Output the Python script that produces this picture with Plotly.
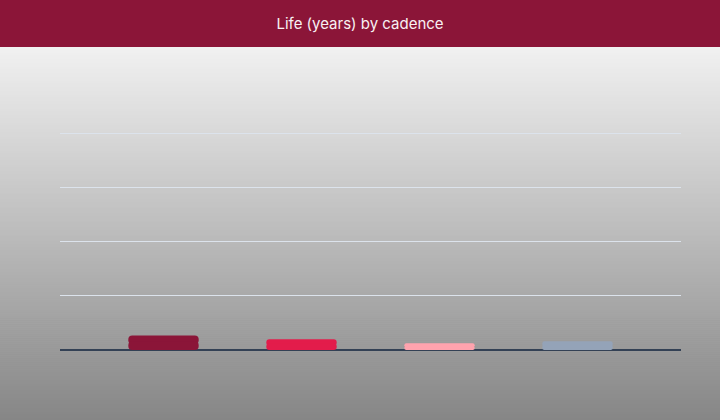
import plotly.graph_objects as go

# data
cadences = ['Daily', 'Weekly', 'Monthly', 'Quarterly']
life_years = [2.7, 2.0, 1.25, 1.6]
bar_colors = ['#8B1538', '#E31C4B', '#FFA3AE', '#94A3B8']

W, H = 720, 420
L, R, T, B = 60, 39, 90, 70
plot_h = H - T - B
y_max = 48.1
px_per_unit = plot_h / y_max


def py(px):
    # pixel row from top of figure -> paper y of the plot area
    return (H - B - px) / plot_h


fig = go.Figure()

# each bar is drawn as two overlapping halves, so both ends get rounded (pill look)
for cat, val, col in zip(cadences, life_years, bar_colors):
    r = val / 2 * px_per_unit
    # upper part: from 40% up to the value, rounded top
    fig.add_trace(go.Bar(
        x=[cat], y=[val * 0.6], base=[val * 0.4],
        width=0.51, opacity=1,
        marker=dict(color=col, opacity=1, cornerradius=r, line=dict(width=0)),
        showlegend=False,
        hovertemplate=f'{cat}: {val}<extra></extra>',
    ))
    # lower part: from 60% down to zero, rounded bottom
    fig.add_trace(go.Bar(
        x=[cat], y=[-val * 0.6], base=[val * 0.6],
        width=0.51, opacity=1,
        marker=dict(color=col, opacity=1, cornerradius=r, line=dict(width=0)),
        showlegend=False,
        hoverinfo='skip',
    ))

# grey gradient background, drawn as thin strips
band = 47
n_strips = 187
c_top, c_bot = 241, 134
step = (H - band) / n_strips
for i in range(n_strips):
    top_px = band + i * step
    c = round(c_top + (c_bot - c_top) * (i + 0.5) / n_strips)
    fig.add_shape(type='rect', xref='paper', yref='paper',
                  x0=-0.2, x1=1.2, y0=py(top_px + step + 0.6), y1=py(top_px),
                  fillcolor=f'rgb({c},{c},{c})', line_width=0, layer='below')

# title band
fig.add_shape(type='rect', xref='paper', yref='paper',
              x0=-0.2, x1=1.2, y0=py(band), y1=py(-5),
              fillcolor='#8B1538', line_width=0, layer='below')

fig.update_layout(
    width=W, height=H,
    margin=dict(l=L, r=R, t=T, b=B),
    paper_bgcolor='#8a8a8a',
    plot_bgcolor='rgba(0,0,0,0)',
    barmode='overlay',
    title=dict(text='Life (years) by cadence', x=0.5, xanchor='center',
               y=1 - 24 / H, yanchor='middle',
               font=dict(family='Inter', size=15, color='#F8F0F2')),
)

fig.update_xaxes(range=[-0.75, 3.75], showticklabels=False, showgrid=False,
                 zeroline=False, showline=False, ticks='')
fig.update_yaxes(range=[0, y_max], dtick=10, showticklabels=False,
                 gridcolor='#DCE3EC', gridwidth=1,
                 zeroline=True, zerolinecolor='#334155', zerolinewidth=2,
                 ticks='')

fig.write_html("out.html", config={'displayModeBar': False},
               post_script="document.body.style.margin='0';")
